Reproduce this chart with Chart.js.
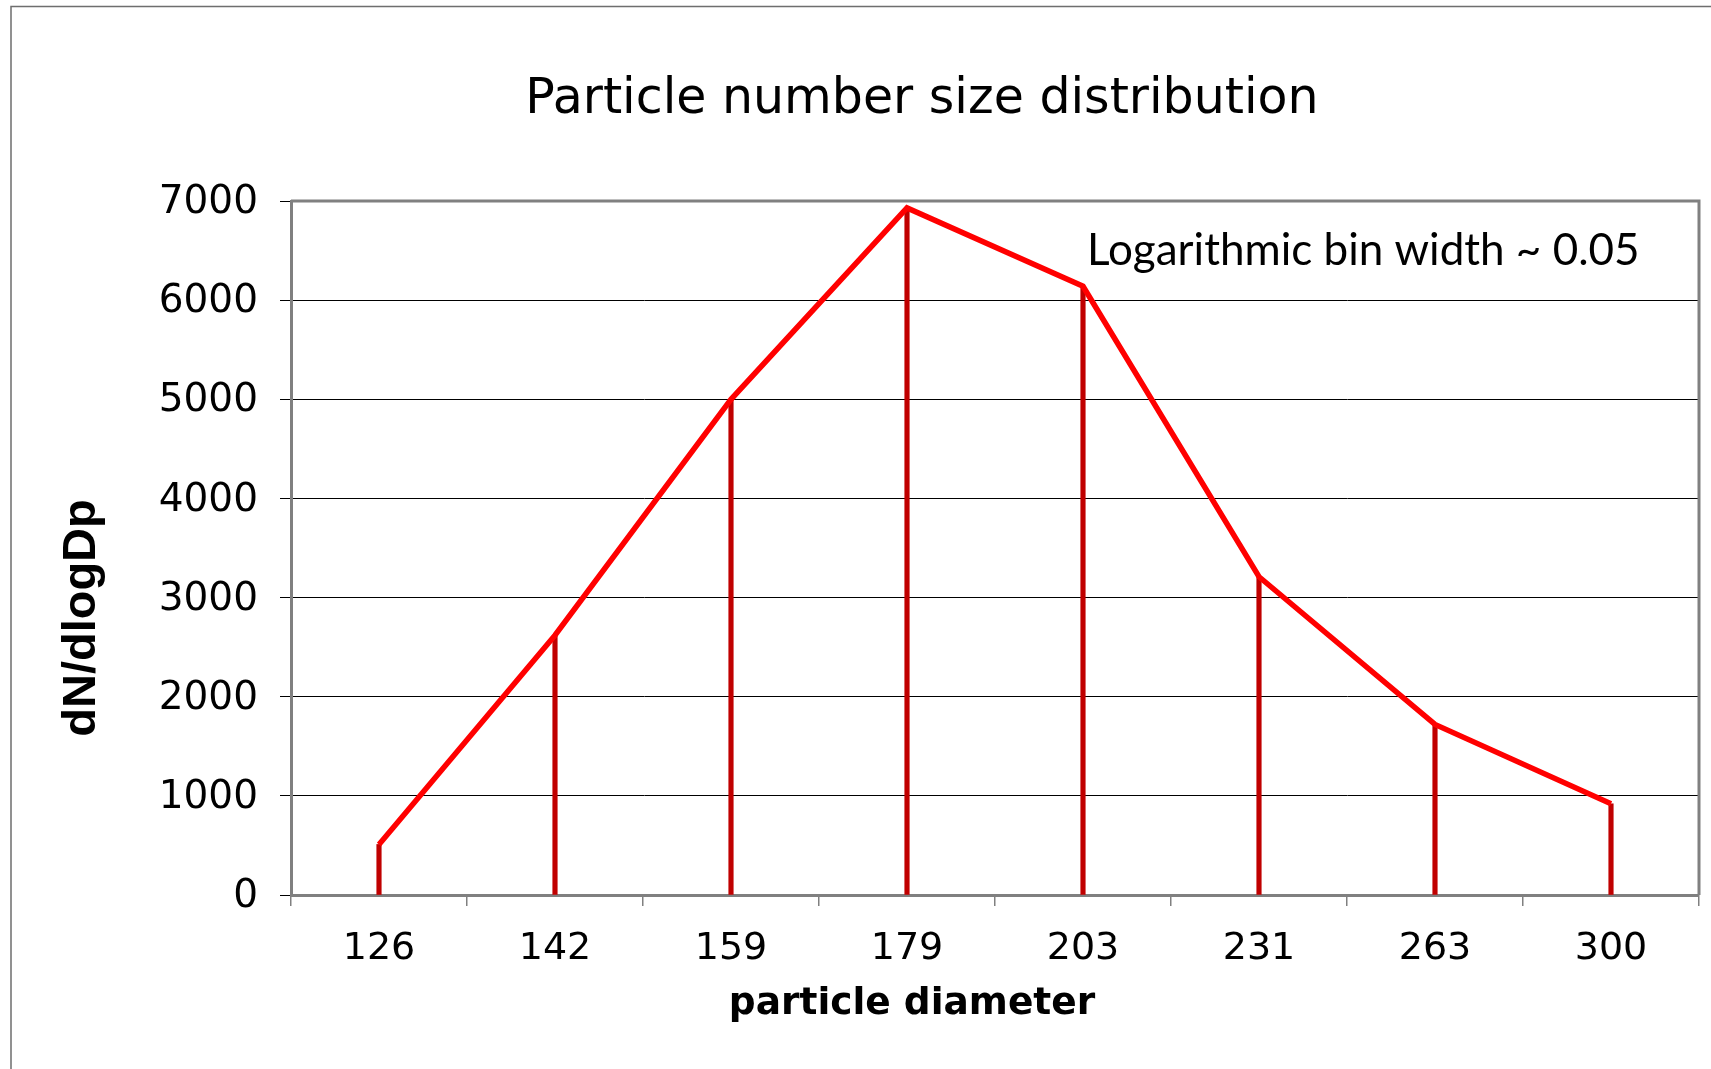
<!DOCTYPE html>
<html><head><meta charset="utf-8">
<script src="https://cdn.jsdelivr.net/npm/chart.js@4"></script>
<style>
html,body{margin:0;padding:0;background:#fff;overflow:hidden}
canvas{display:block}
</style></head>
<body>
<canvas id="c" width="1711" height="1069"></canvas>
<script>
const diameters = ['126', '142', '159', '179', '203', '231', '263', '300'];
const dNdlogDp = [510, 2620, 5000, 6930, 6140, 3210, 1720, 920];
const yTickValues = [0, 1000, 2000, 3000, 4000, 5000, 6000, 7000];
const chartTitle = 'Particle number size distribution';
const xAxisTitle = 'particle diameter';
const yAxisTitle = 'dN/dlogDp';
const noteText = 'Logarithmic bin width ~ 0.05';

const decor = {
  id: 'decor',
  beforeDraw(chart) {
    const ctx = chart.ctx;
    ctx.save();
    ctx.fillStyle = '#fff';
    ctx.fillRect(0, 0, chart.width, chart.height);
    ctx.strokeStyle = '#6e6e6e';
    ctx.lineWidth = 1.5;
    ctx.beginPath();
    ctx.moveTo(11, chart.height + 5);
    ctx.lineTo(11, 6.5);
    ctx.lineTo(chart.width + 5, 6.5);
    ctx.stroke();
    ctx.restore();
  },
  afterDraw(chart) {
    const ctx = chart.ctx;
    const a = chart.chartArea;
    ctx.save();
    ctx.strokeStyle = '#808080';
    ctx.lineWidth = 3;
    ctx.beginPath();
    ctx.moveTo(a.left, a.top);
    ctx.lineTo(a.right, a.top);
    ctx.lineTo(a.right, a.bottom);
    ctx.stroke();
    ctx.fillStyle = '#000';
    ctx.textBaseline = 'middle';
    ctx.textAlign = 'center';
    ctx.font = '49px "DejaVu Sans"';
    ctx.fillText(chartTitle, 922, 100);
    ctx.font = 'bold 37.5px "DejaVu Sans"';
    ctx.fillText(xAxisTitle, 912, 1004);
    ctx.save();
    ctx.translate(82, 618);
    ctx.rotate(-Math.PI / 2);
    ctx.font = 'bold 47px "Liberation Sans"';
    ctx.fillText(yAxisTitle, 0, 0);
    ctx.restore();
    ctx.textAlign = 'left';
    ctx.font = '44px Lato';
    ctx.fillText(noteText, 1087, 251);
    ctx.restore();
  }
};

new Chart(document.getElementById('c'), {
  type: 'bar',
  data: {
    labels: diameters,
    datasets: [
      {
        type: 'line',
        data: dNdlogDp,
        borderColor: '#FF0000',
        borderWidth: 5.5,
        pointRadius: 0,
        tension: 0,
        fill: false,
        order: 0
      },
      {
        type: 'bar',
        data: dNdlogDp,
        backgroundColor: '#C00000',
        barThickness: 4.5,
        order: 1
      }
    ]
  },
  options: {
    responsive: false,
    animation: false,
    devicePixelRatio: 1,
    layout: { padding: { left: 0, right: 12, top: 201, bottom: 0 } },
    plugins: { legend: { display: false }, tooltip: { enabled: false }, title: { display: false } },
    scales: {
      x: {
        offset: true,
        grid: { offset: true, drawOnChartArea: false, drawTicks: true, tickLength: 11, color: '#808080', lineWidth: 1.5 },
        border: { color: '#808080', width: 3 },
        ticks: { color: '#000', font: { family: 'DejaVu Sans', size: 38 }, padding: 20, maxRotation: 0, autoSkip: false },
        afterFit: s => { s.height = 174; }
      },
      y: {
        min: 0,
        max: 7000,
        afterBuildTicks: s => { s.ticks = yTickValues.map(v => ({ value: v })); },
        grid: { color: '#000', lineWidth: 1, drawTicks: true, tickLength: 11 },
        border: { color: '#808080', width: 3 },
        ticks: { color: '#000', font: { family: 'DejaVu Sans', size: 39 }, padding: 22, labelOffset: 2, callback: v => String(v) },
        afterFit: s => { s.width = 291; }
      }
    }
  },
  plugins: [decor]
});
</script>
</body></html>
